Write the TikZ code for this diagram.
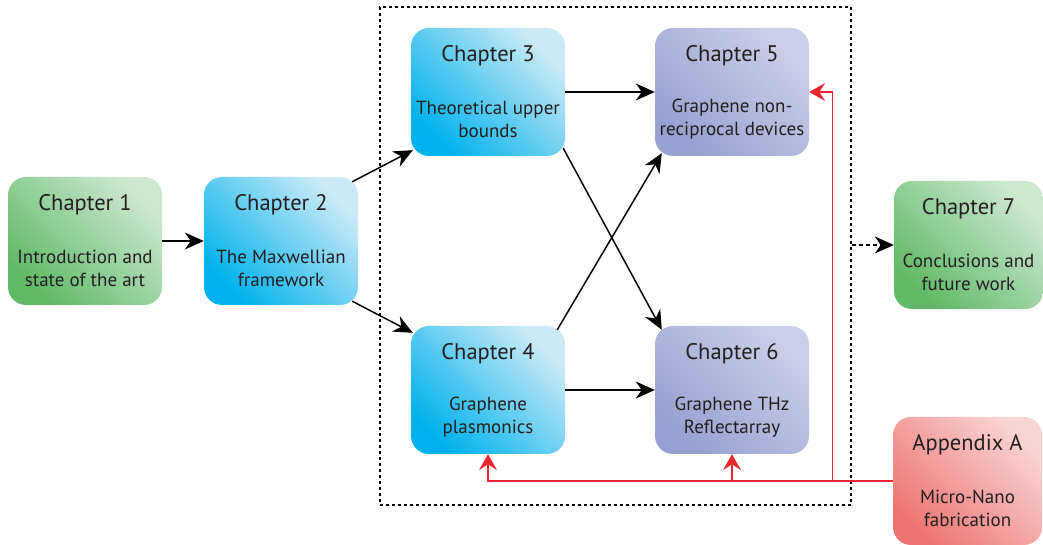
\documentclass[tikz,border=0pt]{standalone}
\usepackage{fontspec}
\setmainfont{PT Sans}
\usepackage{tikz}
\usetikzlibrary{arrows.meta}
\definecolor{grnD}{RGB}{96,185,102}
\definecolor{grnL}{RGB}{204,232,208}
\definecolor{bluD}{RGB}{0,178,236}
\definecolor{bluL}{RGB}{204,234,246}
\definecolor{purD}{RGB}{152,160,208}
\definecolor{purL}{RGB}{204,207,234}
\definecolor{redD}{RGB}{238,118,114}
\definecolor{redL}{RGB}{248,212,212}
\definecolor{linkred}{RGB}{232,36,44}
\definecolor{txt}{RGB}{35,31,32}

\begin{document}
\begin{tikzpicture}[x=1pt,y=1pt,
  box/.style={rounded corners=18pt, minimum height=128pt,
    inner sep=0pt, bottom color=#1D, top color=#1L, shading angle=-45},
  title/.style={font=\fontsize{22.5}{26}\selectfont, text=txt, inner sep=0pt},
  body/.style={font=\fontsize{19}{23}\selectfont, text=txt, align=center, inner sep=0pt},
  link/.style={line width=1.5pt, -{Stealth[length=19pt,width=17pt,inset=6pt]}},
  back/.style={line width=1.3pt, linkred, -{Stealth[length=16pt,width=18pt,inset=6pt]}}]
  \useasboundingbox (0,0) rectangle (1043,545);
  % Chapter boxes
  \foreach \n/\x/\y/\w/\c/\t/\b in {
    ch1/85/304/154/grn/Chapter 1/{Introduction and\\state of the art},
    ch2/281/304/154/blu/Chapter 2/{The Maxwellian\\framework},
    ch3/488/453/154/blu/Chapter 3/{Theoretical upper\\bounds},
    ch4/488/155/154/blu/Chapter 4/{Graphene\\plasmonics},
    ch5/732/453/154/pur/Chapter 5/{Graphene non-\\reciprocal devices},
    ch6/732/155/154/pur/Chapter 6/{Graphene THz\\Reflectarray},
    ch7/968.5/300/149/grn/Chapter 7/{Conclusions and\\future work},
    appA/967.5/64/149/red/Appendix A/{Micro-Nano\\fabrication}}{
    \node[box=\c, minimum width=\w pt] (\n) at (\x,\y) {};
    \node[title] (\n-t) at ([yshift=-28]\n.north) {\t};
    \node[body] (\n-b) at ([yshift=-27]\n.center) {\b};}
  % Dotted frame round chapters 3 to 6
  \node[draw, line width=1.5pt, dash pattern=on 3pt off 3pt, minimum width=471pt,
    minimum height=498pt, inner sep=0pt] (grp) at (615.5,289) {};
  % Black links
  \draw[link] (ch1) -- (ch2);
  \draw[link] ([shift={(-6,-5)}]ch2.north east) -- ([shift={(2,6)}]ch3.south west);
  \draw[link] ([shift={(-6,4)}]ch2.south east) -- ([shift={(2,-7)}]ch4.north west);
  \draw[link] (ch3) -- (ch5);
  \draw[link] (ch4) -- (ch6);
  \draw[link] ([shift={(-2,8)}]ch3.south east) -- ([shift={(7,-4)}]ch6.north west);
  \draw[link] ([shift={(-8,-4)}]ch4.north east) -- ([shift={(7,3)}]ch5.south west);
  \draw[link, dash pattern=on 4pt off 3pt] (grp.east |- ch7.west) -- (ch7.west);
  % Red links from the appendix
  \coordinate (rj) at ([xshift=-60]appA.west);
  \draw[back] (appA.west) -- (ch4.south |- appA.west) -- (ch4.south);
  \draw[back] (ch6.south |- appA.west) -- (ch6.south);
  \draw[back] (rj) |- (ch5.east);
\end{tikzpicture}
\end{document}
